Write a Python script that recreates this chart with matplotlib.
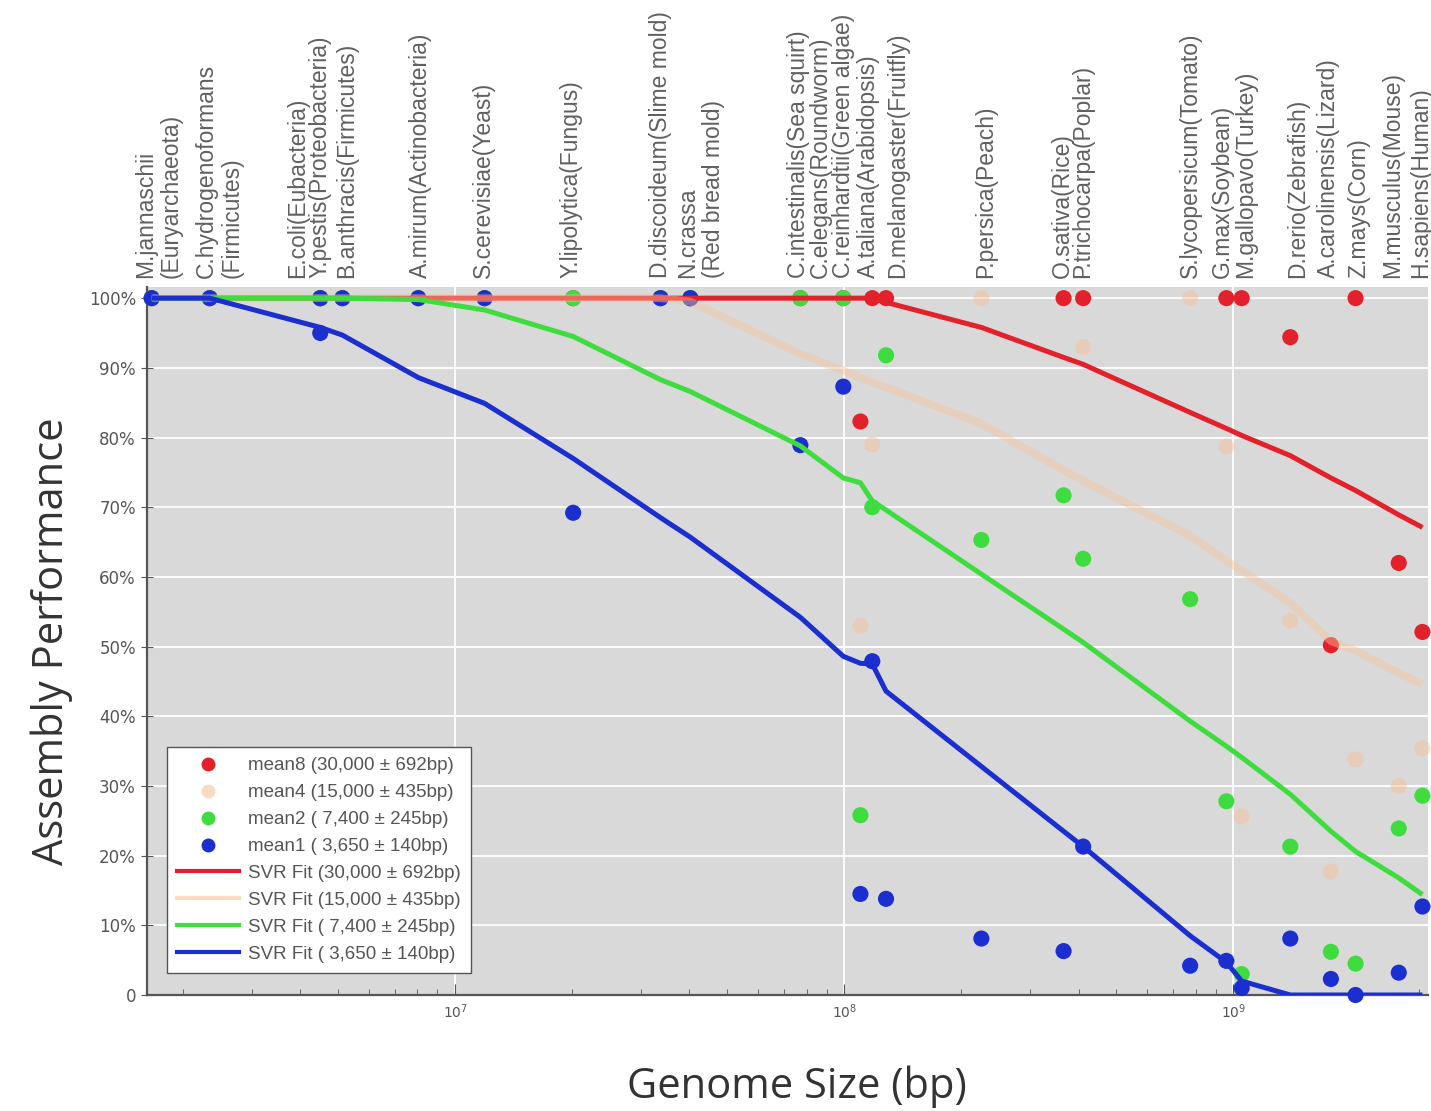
import numpy as np
import matplotlib
matplotlib.use("Agg")
import matplotlib.pyplot as plt
import matplotlib.transforms as mtransforms
from matplotlib.lines import Line2D

# ---------------- data ----------------
species = [
    "M.jannaschii\n(Euryarchaeota)", "C.hydrogenoformans\n(Firmicutes)",
    "E.coli(Eubacteria)", "Y.pestis(Proteobacteria)", "B.anthracis(Firmicutes)",
    "A.mirum(Actinobacteria)", "S.cerevisiae(Yeast)", "Y.lipolytica(Fungus)",
    "D.discoideum(Slime mold)", "N.crassa\n(Red bread mold)",
    "C.intestinalis(Sea squirt)", "C.elegans(Roundworm)", "C.reinhardtii(Green algae)",
    "A.taliana(Arabidopsis)", "D.melanogaster(Fruitfly)", "P.persica(Peach)",
    "O.sativa(Rice)", "P.trichocarpa(Poplar)", "S.lycopersicum(Tomato)",
    "G.max(Soybean)", "M.gallopavo(Turkey)", "D.rerio(Zebrafish)",
    "A.carolinensis(Lizard)", "Z.mays(Corn)", "M.musculus(Mouse)", "H.sapiens(Human)",
]
genome_bp = [1.66e6, 2.34e6, 4.5e6, 4.5e6, 5.13e6, 8.04e6, 1.19e7, 2.01e7,
             3.37e7, 4.02e7, 7.71e7, 9.94e7, 1.10e8, 1.18e8, 1.28e8, 2.25e8,
             3.66e8, 4.11e8, 7.74e8, 9.59e8, 1.05e9, 1.40e9, 1.78e9, 2.06e9,
             2.66e9, 3.06e9]

nan = np.nan
mean8 = [1.0, 1.0, 1.0, 1.0, 1.0, 1.0, 1.0, 1.0, 1.0, 1.0, 1.0, 1.0, 0.823,
         1.0, 1.0, nan, 1.0, 1.0, nan, 1.0, 1.0, 0.944, 0.502, 1.0, 0.62, 0.521]
mean4 = [1.0, 1.0, 1.0, 1.0, 1.0, 1.0, 1.0, 1.0, 1.0, 1.0, 1.0, 1.0, 0.53,
         0.79, 1.0, 1.0, 1.0, 0.93, 1.0, 0.787, 0.256, 0.537, 0.177, 0.338, 0.30, 0.354]
mean2 = [1.0, 1.0, 1.0, 1.0, 1.0, 1.0, 1.0, 1.0, 1.0, 1.0, 1.0, 1.0, 0.258,
         0.70, 0.918, 0.653, 0.717, 0.626, 0.568, 0.278, 0.03, 0.213, 0.062, 0.045, 0.239, 0.286]
mean1 = [1.0, 1.0, 1.0, 0.95, 1.0, 1.0, 1.0, 0.692, 1.0, 1.0, 0.789, 0.873, 0.145,
         0.479, 0.138, 0.081, 0.063, 0.213, 0.042, 0.049, 0.01, 0.081, 0.023, 0.0, 0.032, 0.127]

fit8 = [1.0, 1.0, 1.0, 1.0, 1.0, 1.0, 1.0, 1.0, 1.0, 1.0, 1.0, 1.0, 1.0, 1.0,
        0.994, 0.958, 0.915, 0.905, 0.836, 0.813, 0.803, 0.774, 0.742, 0.724, 0.689, 0.671]
fit4 = [1.0, 1.0, 1.0, 1.0, 1.0, 1.0, 1.0, 1.0, 1.0, 0.995, 0.92, 0.896, 0.886,
        0.879, 0.872, 0.82, 0.753, 0.738, 0.659, 0.623, 0.609, 0.563, 0.508, 0.494, 0.462, 0.446]
fit2 = [1.0, 1.0, 1.0, 1.0, 1.0, 0.998, 0.983, 0.945, 0.883, 0.866, 0.788, 0.742,
        0.735, 0.709, 0.696, 0.604, 0.525, 0.506, 0.393, 0.357, 0.341, 0.288, 0.235,
        0.206, 0.168, 0.144]
fit1 = [1.0, 1.0, 0.958, 0.958, 0.947, 0.886, 0.849, 0.77, 0.685, 0.657, 0.542,
        0.486, 0.476, 0.475, 0.436, 0.328, 0.235, 0.213, 0.085, 0.047, 0.02, 0.0,
        0.0, 0.0, 0.0, 0.0]

legend_points = ["mean8 (30,000 \u00b1 692bp)", "mean4 (15,000 \u00b1 435bp)",
                 "mean2 ( 7,400 \u00b1 245bp)", "mean1 ( 3,650 \u00b1 140bp)"]
legend_fits = ["SVR Fit (30,000 \u00b1 692bp)", "SVR Fit (15,000 \u00b1 435bp)",
               "SVR Fit ( 7,400 \u00b1 245bp)", "SVR Fit ( 3,650 \u00b1 140bp)"]
ytick_vals = [0, 0.1, 0.2, 0.3, 0.4, 0.5, 0.6, 0.7, 0.8, 0.9, 1.0]
ytick_labels = ["0", "10%", "20%", "30%", "40%", "50%", "60%", "70%", "80%", "90%", "100%"]

# ---------------- layout / style ----------------
W, H = 1431, 1111
# label centre positions (log10 bp) for the organism names (spread out to avoid overlap)
label_log = [6.238, 6.393, 6.594, 6.653, 6.720, 6.910, 7.072, 7.298, 7.527, 7.630,
             7.882, 7.938, 7.997, 8.062, 8.136, 8.362, 8.560, 8.612, 8.889, 8.972,
             9.031, 9.165, 9.244, 9.321, 9.409, 9.481]

c_red = "#e3212b"
c_peach = "#f6c39a"
c_green = "#3fdc3f"
c_blue = "#1b2ed0"

fig = plt.figure(figsize=(W / 100, H / 100), dpi=100)
ax = fig.add_axes([147 / W, 116 / H, 1281 / W, 708 / H])
ax.set_facecolor("#d9d9d9")
ax.set_xscale("log")
ax.set_xlim(10 ** 6.208, 10 ** 9.50)
ax.set_ylim(0, 1.016)
ax.set_axisbelow(True)
ax.grid(True, which="major", color="white", lw=1.3)

g = np.array(genome_bp)
ms = 135
ax.scatter(g, mean4, s=ms, color=c_peach, alpha=0.5, edgecolors="none", zorder=3.0, clip_on=False)
ax.scatter(g, mean8, s=ms, color=c_red, edgecolors="none", zorder=3.1, clip_on=False)
ax.scatter(g, mean2, s=ms, color=c_green, edgecolors="none", zorder=3.2, clip_on=False)
ax.scatter(g, mean1, s=ms, color=c_blue, edgecolors="none", zorder=3.3, clip_on=False)

lw = 3.6
ax.plot(g, fit8, color=c_red, lw=lw, zorder=4.0, solid_capstyle="butt")
ax.plot(g, fit4, color=c_peach, lw=lw + 2.0, alpha=0.45, zorder=4.1, solid_capstyle="butt")
ax.plot(g, fit2, color=c_green, lw=lw, zorder=4.2, solid_capstyle="butt")
ax.plot(g, fit1, color=c_blue, lw=lw, zorder=4.3, solid_capstyle="butt")

# axes styling
for s in ["top", "right"]:
    ax.spines[s].set_visible(False)
for s in ["left", "bottom"]:
    ax.spines[s].set_color("#555555")
    ax.spines[s].set_linewidth(1.6)

ax.set_yticks(ytick_vals)
ax.set_yticklabels(ytick_labels)
ax.tick_params(axis="y", direction="inout", length=8, color="#555555",
               labelsize=12, labelcolor="#555555", pad=4)
ax.set_xticks([1e7, 1e8, 1e9])
ax.set_xticklabels(["$10^7$", "$10^8$", "$10^9$"])
ax.tick_params(axis="x", which="major", direction="in", length=8, color="#555555",
               labelsize=10, labelcolor="#555555", pad=5)
ax.tick_params(axis="x", which="minor", direction="in", length=4, color="#555555")

ax.set_ylabel("Assembly Performance", fontsize=30, family="Open Sans", color="#333333")
ax.yaxis.set_label_coords(-0.058, 0.5)
ax.set_xlabel("Genome Size (bp)", fontsize=30, family="Open Sans", color="#333333")
ax.xaxis.set_label_coords(0.507, -0.10)

# organism names on top
trans = mtransforms.blended_transform_factory(ax.transData, ax.transAxes)
for name, lx in zip(species, label_log):
    ax.text(10 ** lx, 1.0 + 9 / 708, name, transform=trans, rotation=90,
            ha="center", va="bottom", multialignment="left", fontsize=16.5,
            family="Liberation Sans", color="#606060", linespacing=1.15)

# legend
handles = [
    Line2D([], [], ls="none", marker="o", ms=10, color=c_red, mec="none"),
    Line2D([], [], ls="none", marker="o", ms=10, color=c_peach, mec="none", alpha=0.6),
    Line2D([], [], ls="none", marker="o", ms=10, color=c_green, mec="none"),
    Line2D([], [], ls="none", marker="o", ms=10, color=c_blue, mec="none"),
    Line2D([], [], color=c_red, lw=3),
    Line2D([], [], color=c_peach, lw=3, alpha=0.6),
    Line2D([], [], color=c_green, lw=3),
    Line2D([], [], color=c_blue, lw=3),
]
leg = ax.legend(handles, legend_points + legend_fits, loc="lower left",
                bbox_to_anchor=(0.008, 0.018), frameon=True,
                fancybox=False, edgecolor="#555555", framealpha=1.0,
                handlelength=3.3, handletextpad=0.5, labelspacing=0.52,
                borderpad=0.55, prop={"family": "Liberation Sans", "size": 13.5})
for t in leg.get_texts():
    t.set_color("#555555")
leg.set_zorder(10)

fig.savefig("out.png", dpi=100)
